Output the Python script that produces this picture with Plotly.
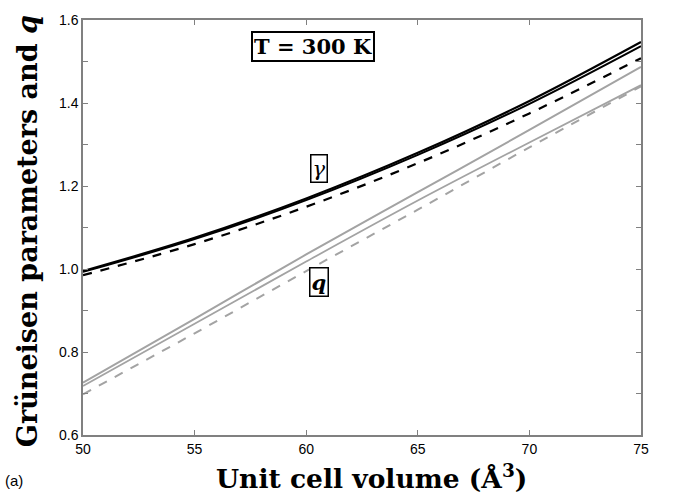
import plotly.graph_objects as go

volume = [50, 55, 60, 65, 70, 75]

gamma_a = [0.995, 1.075, 1.170, 1.280, 1.405, 1.547]
gamma_b = [0.993, 1.072, 1.166, 1.275, 1.398, 1.537]
gamma_dash = [0.985, 1.060, 1.150, 1.255, 1.375, 1.508]

q_a = [0.726, 0.880, 1.035, 1.185, 1.335, 1.487]
q_b = [0.718, 0.868, 1.018, 1.165, 1.305, 1.443]
q_dash = [0.698, 0.845, 0.995, 1.143, 1.293, 1.440]

x_ticks = [50, 55, 60, 65, 70, 75]
y_ticks = [0.6, 0.8, 1.0, 1.2, 1.4, 1.6]

BLACK = "#000000"
GRAY = "#a3a3a3"

fig = go.Figure()

def add(y, color, dash, width):
    fig.add_trace(go.Scatter(x=volume, y=y, mode="lines", line_shape="spline",
                             line=dict(color=color, dash=dash, width=width),
                             showlegend=False, hoverinfo="skip"))

add(q_dash, GRAY, "dash", 2)
add(q_b, GRAY, "solid", 1.8)
add(q_a, GRAY, "solid", 2)
add(gamma_dash, BLACK, "dash", 2.2)
add(gamma_b, BLACK, "solid", 2)
add(gamma_a, BLACK, "solid", 2.2)

serif = "DejaVu Serif"
axis_common = dict(showline=True, linecolor="#808080", linewidth=1.5, mirror="allticks",
                   ticks="inside", ticklen=5, tickcolor="#808080", tickwidth=1,
                   showgrid=False, zeroline=False,
                   tickfont=dict(family="Liberation Sans", size=14, color="#000000"))

fig.update_layout(
    width=673, height=497,
    margin=dict(l=83, r=32, t=12, b=62),
    paper_bgcolor="white", plot_bgcolor="white",
    xaxis=dict(range=[50, 75], tickvals=x_ticks, ticktext=[str(v) for v in x_ticks],
               **axis_common),
    yaxis=dict(range=[0.6, 1.6], tickvals=y_ticks, ticktext=[f"{v:.1f}" for v in y_ticks],
               minor=dict(dtick=0.1, ticks="inside", ticklen=5, tickcolor="#808080"),
               **axis_common),
)

fig.add_annotation(xref="paper", yref="paper", x=0.517, y=-0.102, xanchor="center", yanchor="middle",
                   text="Unit cell volume (Å<sup>3</sup>)", showarrow=False,
                   font=dict(family=serif, size=26.5, color="black", weight="bold"))
fig.add_annotation(xref="paper", yref="paper", x=-0.098, y=0.492, xanchor="center", yanchor="middle",
                   text="Grüneisen parameters and <i>q</i>", textangle=-90, showarrow=False,
                   font=dict(family=serif, size=27, color="black", weight="bold"))
fig.add_annotation(xref="paper", yref="paper", x=-0.143, y=-0.11, xanchor="left", yanchor="middle",
                   text="(a)", showarrow=False,
                   font=dict(family="Liberation Sans", size=15, color="black"))

fig.add_annotation(x=60.3, y=1.535, text="T = 300 K", showarrow=False,
                   font=dict(family=serif, size=21, color="black", weight="bold"),
                   bordercolor="black", borderwidth=2, borderpad=1, bgcolor="white")
fig.add_annotation(x=60.57, y=1.243, text="<i>γ</i>", showarrow=False,
                   font=dict(family=serif, size=21, color="black"),
                   bordercolor="black", borderwidth=1.5, borderpad=1, bgcolor="white")
fig.add_annotation(x=60.57, y=0.968, text="<i>q</i>", showarrow=False,
                   font=dict(family=serif, size=21, color="black", weight="bold"),
                   bordercolor="black", borderwidth=1.5, borderpad=1, bgcolor="white")

fig.write_html("out.html", config={"displayModeBar": False},
               post_script="document.body.style.margin='0';")
